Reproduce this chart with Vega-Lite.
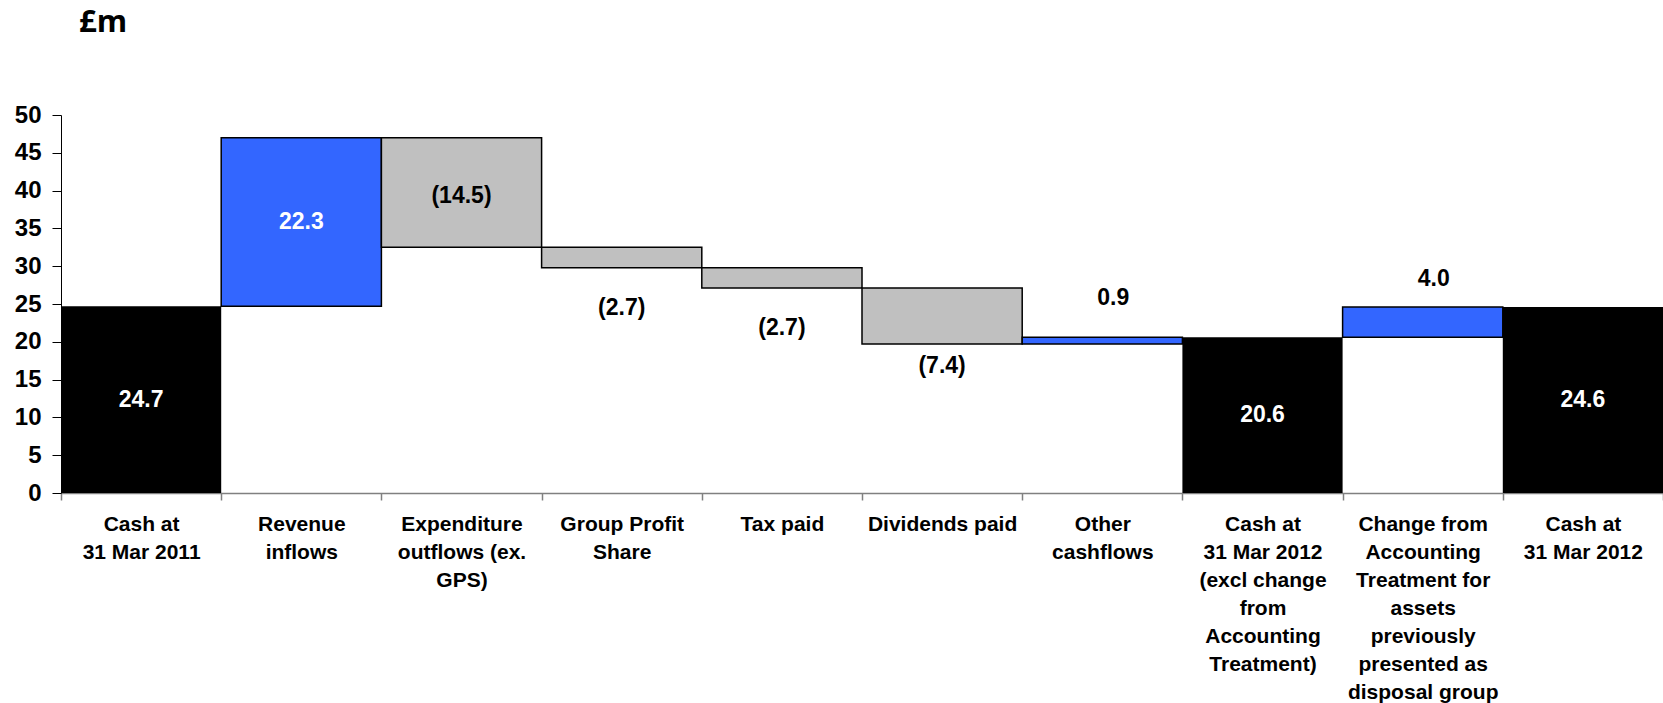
{
  "$schema": "https://vega.github.io/schema/vega-lite/v6.json",
  "width": 1602,
  "height": 378,
  "autosize": {"type": "none"},
  "padding": {"left": 61, "top": 115, "right": 0, "bottom": 210},
  "background": "white",
  "config": {
    "view": {"stroke": null},
    "font": "Liberation Sans",
    "axisY": {
      "title": null,
      "grid": false,
      "labelOverlap": false,
      "labelFont": "Liberation Sans",
      "labelFontSize": 24,
      "labelFontWeight": "bold",
      "labelColor": "#000000",
      "labelPadding": 11,
      "tickSize": 9,
      "tickColor": "#000000",
      "domainColor": "#000000"
    }
  },
  "title": {
    "text": "£m",
    "anchor": "start",
    "frame": "group",
    "font": "Open Sans",
    "fontSize": 31,
    "fontWeight": "bold",
    "color": "#000000",
    "dx": 18,
    "offset": 64
  },
  "data": {
    "values": [
      {"step": "Cash at|31 Mar 2011", "amount": 24.7, "kind": "open"},
      {"step": "Revenue|inflows", "amount": 22.3, "kind": "change"},
      {"step": "Expenditure|outflows (ex.|GPS)", "amount": -14.5, "kind": "change"},
      {"step": "Group Profit|Share", "amount": -2.7, "kind": "change"},
      {"step": "Tax paid", "amount": -2.7, "kind": "change"},
      {"step": "Dividends paid", "amount": -7.4, "kind": "change"},
      {"step": "Other|cashflows", "amount": 0.9, "kind": "change"},
      {"step": "Cash at|31 Mar 2012|(excl change|from|Accounting|Treatment)", "amount": 20.6, "kind": "total"},
      {"step": "Change from|Accounting|Treatment for|assets|previously|presented as|disposal group", "amount": 4.0, "kind": "change"},
      {"step": "Cash at|31 Mar 2012", "amount": 24.6, "kind": "total"}
    ]
  },
  "transform": [
    {"window": [{"op": "row_number", "as": "idx"}]},
    {"calculate": "datum.kind == 'total' ? 0 : datum.amount", "as": "flow"},
    {"window": [{"op": "sum", "field": "flow", "as": "running"}], "sort": [{"field": "idx"}], "frame": [null, 0]},
    {"calculate": "datum.kind == 'change' ? datum.running - datum.amount : 0", "as": "base"},
    {"calculate": "datum.kind == 'change' ? datum.running : datum.amount", "as": "top"},
    {"calculate": "(datum.base + datum.top) / 2", "as": "mid"},
    {"calculate": "datum.amount < 0 ? '(' + format(-datum.amount, '.1f') + ')' : format(datum.amount, '.1f')", "as": "label"},
    {"calculate": "datum.kind != 'change' ? 'total' : (datum.amount < 0 ? 'down' : 'up')", "as": "type"}
  ],
  "encoding": {
    "x": {
      "field": "step",
      "type": "nominal",
      "sort": null,
      "scale": {"paddingInner": 0, "paddingOuter": 0},
      "axis": {
        "title": null,
        "labelAngle": 0,
        "labelExpr": "isValid(datum.value) ? split(datum.value, '|') : ''",
        "labelFont": "Liberation Sans",
        "labelFontSize": 21,
        "labelFontWeight": "bold",
        "labelLineHeight": 28,
        "labelColor": "#000000",
        "labelPadding": 13,
        "labelOverlap": false,
        "labelBound": false,
        "labelLimit": 0,
        "tickBand": "extent",
        "tickSize": 7,
        "tickWidth": 1.5,
        "tickColor": "#808080",
        "domainColor": "#808080",
        "domainWidth": 1.5
      }
    }
  },
  "layer": [
    {
      "mark": {"type": "bar", "stroke": "#000000"},
      "encoding": {
        "y": {
          "field": "base",
          "type": "quantitative",
          "scale": {"domain": [0, 50], "nice": false},
          "axis": {"values": [0, 5, 10, 15, 20, 25, 30, 35, 40, 45, 50]}
        },
        "y2": {"field": "top"},
        "color": {
          "field": "type",
          "type": "nominal",
          "scale": {"domain": ["total", "up", "down"], "range": ["#000000", "#3366FF", "#C0C0C0"]},
          "legend": null
        },
        "strokeWidth": {
          "condition": {"test": "datum.type == 'total'", "value": 0},
          "value": 1.5
        }
      }
    },
    {
      "transform": [{"filter": "datum.type == 'total' || datum.amount >= 10"}],
      "mark": {"type": "text", "fontSize": 23, "fontWeight": "bold", "color": "#FFFFFF", "baseline": "middle"},
      "encoding": {
        "y": {"field": "mid", "type": "quantitative", "axis": {"values": [0, 5, 10, 15, 20, 25, 30, 35, 40, 45, 50]}},
        "text": {"field": "label"}
      }
    },
    {
      "transform": [{"filter": "datum.amount <= -10"}],
      "mark": {"type": "text", "fontSize": 23, "fontWeight": "bold", "color": "#000000", "baseline": "middle", "dy": 4},
      "encoding": {
        "y": {"field": "mid", "type": "quantitative", "axis": {"values": [0, 5, 10, 15, 20, 25, 30, 35, 40, 45, 50]}},
        "text": {"field": "label"}
      }
    },
    {
      "transform": [{"filter": "datum.type == 'down' && datum.amount > -10"}],
      "mark": {"type": "text", "fontSize": 23, "fontWeight": "bold", "color": "#000000", "baseline": "middle", "dy": 50},
      "encoding": {
        "y": {"field": "mid", "type": "quantitative", "axis": {"values": [0, 5, 10, 15, 20, 25, 30, 35, 40, 45, 50]}},
        "text": {"field": "label"}
      }
    },
    {
      "transform": [{"filter": "datum.type == 'up' && datum.amount < 10"}],
      "mark": {"type": "text", "fontSize": 23, "fontWeight": "bold", "color": "#000000", "baseline": "middle", "dy": -43, "dx": 11},
      "encoding": {
        "y": {"field": "mid", "type": "quantitative", "axis": {"values": [0, 5, 10, 15, 20, 25, 30, 35, 40, 45, 50]}},
        "text": {"field": "label"}
      }
    }
  ]
}
